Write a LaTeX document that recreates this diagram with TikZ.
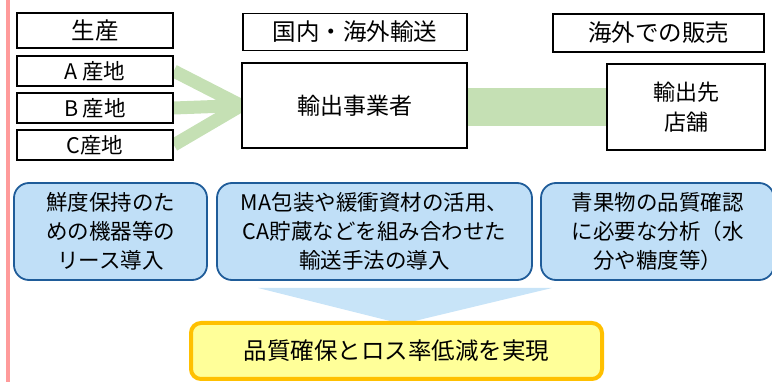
\documentclass[tikz,border=0pt]{standalone}
\usepackage{fontspec}
\setmainfont{Noto Sans CJK JP}
\usepackage{tikz}
\usetikzlibrary{backgrounds}
\definecolor{fangreen}{HTML}{C5E0B4}
\definecolor{stepblue}{HTML}{C0DFF7}
\definecolor{stepline}{HTML}{1F5C99}
\definecolor{funnelblue}{HTML}{C8E4F8}
\definecolor{goalfill}{HTML}{FFFF99}
\definecolor{goalline}{HTML}{FFC000}
\definecolor{sidepink}{HTML}{FF9B9B}

\tikzset{
  plainbox/.style={draw=black, line width=1.6pt, fill=white, inner sep=0pt, align=center},
  headbox/.style={plainbox, font=\fontsize{23.5}{26}\selectfont},
  srcbox/.style={plainbox, minimum width=156pt, minimum height=30pt, font=\fontsize{21.5}{24}\selectfont},
  measurebox/.style={draw=stepline, line width=1.8pt, fill=stepblue, rounded corners=15pt, inner sep=0pt, align=center, minimum height=97pt, font=\fontsize{21.5}{29}\selectfont},
  fanline/.style={fangreen, line width=13pt}
}

\begin{document}
\begin{tikzpicture}[x=1pt,y=-1pt]
\useasboundingbox (0,0) rectangle (772,382);

% side bar
\draw [sidepink, line width=4pt] (8,0) -- (8,382);

% top row
\node [headbox, minimum width=156pt, minimum height=35pt] (prod) at (95,30.5) {生産};
\node [srcbox] (srcA) at (95,71) {A 産地};
\node [srcbox] (srcB) at (95,108) {B 産地};
\node [srcbox] (srcC) at (95,145) {C産地};

\node [headbox, minimum width=224pt, minimum height=37pt] (trans) at (355,32) {国内・海外輸送};
\node [plainbox, minimum width=225pt, minimum height=85pt, font=\fontsize{23}{26}\selectfont] (exp) at (354.5,105.5) {輸出事業者};

\node [headbox, minimum width=211pt, minimum height=38pt] (sales) at (658.5,33) {海外での販売};
\node [plainbox, minimum width=158pt, minimum height=86pt, font=\fontsize{22}{30}\selectfont] (shop) at (686,107) {輸出先\\店舗};

\begin{pgfonlayer}{background}
\draw [fanline] (srcA.east) -- (exp.west);
\draw [fanline] (srcB.east) -- (exp.west);
\draw [fanline] (srcC.east) -- (exp.west);
\draw [fangreen, line width=38pt] ([yshift=-1.5pt]exp.east) -- ([yshift=-1.5pt]exp.east -| shop.west);
\end{pgfonlayer}

% measures
\node [measurebox, minimum width=193pt] (lease) at (110.5,231.5) {鮮度保持のた\\めの機器等の\\リース導入};
\node [measurebox, minimum width=315pt] (pack) at (374.5,231.5) {MA包装や緩衝資材の活用、\\CA貯蔵などを組み合わせた\\輸送手法の導入};
\node [measurebox, minimum width=233pt] (check) at (657.5,231.5) {青果物の品質確認\\に必要な分析（水\\分や糖度等）};

% funnel
\fill [funnelblue] (258,288) -- (552,288) -- (402,324) -- cycle;

\node [draw=goalline, line width=4pt, fill=goalfill, rounded corners=10pt, minimum width=411pt, minimum height=56pt, inner sep=0pt, font=\fontsize{23.5}{26}\selectfont] (goal) at (396.5,351) {品質確保とロス率低減を実現};
\end{tikzpicture}
\end{document}
